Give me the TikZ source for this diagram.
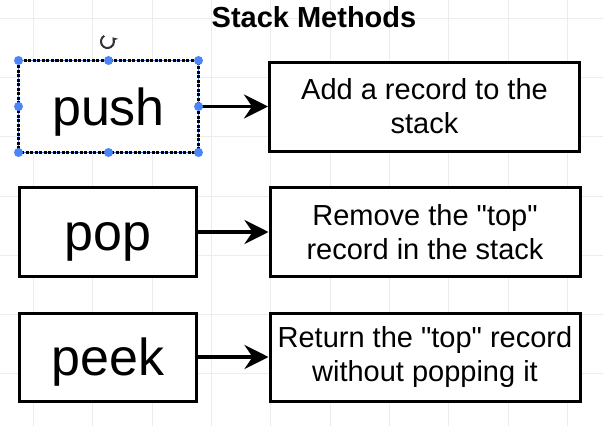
\documentclass[tikz,border=0pt]{standalone}
\usepackage{fontspec}
\setmainfont{Liberation Sans}
\usetikzlibrary{arrows.meta}
\definecolor{selblue}{RGB}{74,134,247}
\definecolor{gridc}{RGB}{236,236,236}
\newcommand{\qq}{\textquotedbl}
\begin{document}
\begin{tikzpicture}[x=1pt,y=-1pt,
  method/.style={draw=black,line width=3pt,minimum width=177pt,minimum height=89pt,inner sep=0pt,
    text height=37pt,text depth=0pt,font=\fontsize{52}{60}\selectfont},
  desc/.style={draw=black,line width=3pt,minimum width=310pt,minimum height=89pt,inner sep=0pt,
    align=center,font=\fontsize{29}{34}\selectfont},
  conn/.style={line width=3.5pt,-{Stealth[length=24pt,width=24pt,inset=8pt]}},
  handle/.style={circle,fill=selblue,inner sep=0pt,minimum size=9pt}]
\useasboundingbox (0,0) rectangle (603,426);
\fill[white] (0,0) rectangle (603,426);
% grid
\foreach \gx in {33.5,92.8,152.1,211.4,270.7,330,389.3,448.6,507.9,567.2}
  \draw[gridc,line width=0.8pt] (\gx,0) -- (\gx,426);
\foreach \gy in {18,77.3,136.6,195.9,255.2,314.5,373.8}
  \draw[gridc,line width=0.8pt] (0,\gy) -- (603,\gy);
% title
\node[anchor=base,font=\fontsize{29}{34}\selectfont\bfseries] (title) at (314,27) {Stack Methods};
% boxes
\node[method,draw=none,fill=white] (push) at (108.5,106.5) {push};
\draw[selblue,line width=1.5pt] (push.north west) rectangle (push.south east);
\draw[black,line width=2.8pt,dash pattern=on 3pt off 1.5pt] (push.north west) rectangle (push.south east);
\node[desc,fill=white] (pushd) at (424.5,106.5) {Add a record to the\\stack};
\node[method,fill=white] (pop) at (108,232) {pop};
\node[desc,fill=white] (popd) at (425,232) {Remove the \qq top\qq\\record in the stack};
\node[method,fill=white,minimum height=88pt] (peek) at (108,357) {peek};
\node[desc,fill=white,minimum height=88pt] (peekd) at (425,357) {Return the \qq top\qq{} record\\without popping it};
% connectors
\draw[conn] (push) -- (pushd);
\draw[conn] (pop) -- (popd);
\draw[conn] (peek) -- (peekd);
% selection handles
\foreach \a in {north west,north,north east,east,south east,south,south west,west}
  \node[handle] at (push.\a) {};
% rotate icon
\coordinate (rot) at (107.5,41.5);
\draw[black!80,line width=2pt,-{Stealth[length=5pt,width=7pt]}]
  ([shift={(120:6.5pt)}]rot) arc[start angle=120,end angle=400,radius=6.5pt];
\end{tikzpicture}
\end{document}
